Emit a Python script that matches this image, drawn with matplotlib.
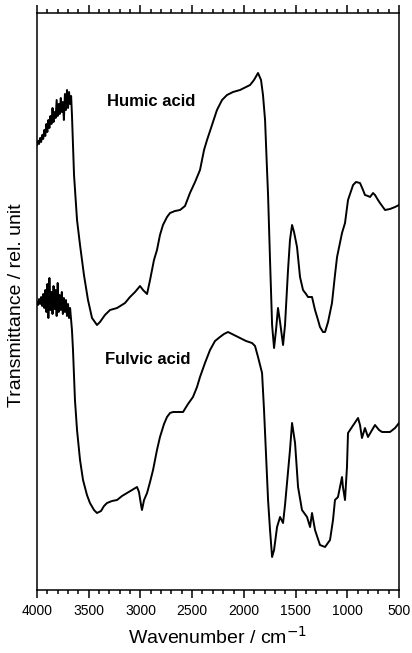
import numpy as np
import matplotlib
matplotlib.use("Agg")
import matplotlib.pyplot as plt
from matplotlib.ticker import MultipleLocator

plt.rcParams['font.family'] = ['Liberation Sans', 'DejaVu Sans']

# Humic acid spectrum (wavenumber / cm-1, transmittance in rel. units)
humic_wn = [4000, 3990, 3980, 3970, 3960, 3950, 3940, 3930, 3920, 3910, 3900,
            3890, 3880, 3870, 3860, 3850, 3840, 3830, 3820, 3810, 3800, 3790,
            3780, 3770, 3760, 3750, 3740, 3730, 3720, 3710, 3700, 3690, 3680,
            3670, 3662, 3642, 3613, 3584, 3546, 3507, 3468, 3420, 3391, 3343,
            3294, 3226, 3149, 3101, 3052, 3004, 2975, 2936, 2907, 2869, 2840,
            2811, 2782, 2743, 2714, 2666, 2617, 2569, 2521, 2472, 2424, 2385,
            2356, 2308, 2260, 2211, 2163, 2105, 2037, 1940, 1902, 1863, 1834,
            1815, 1795, 1776, 1766, 1747, 1727, 1708, 1689, 1670, 1650, 1621,
            1602, 1573, 1554, 1534, 1515, 1486, 1457, 1428, 1399, 1380, 1341,
            1312, 1283, 1264, 1235, 1215, 1186, 1148, 1119, 1099, 1051, 1022,
            993, 944, 916, 877, 848, 829, 800, 780, 751, 732, 703, 684, 635,
            587, 538, 500]
humic_t = [445, 449, 446, 452, 448, 455, 451, 460, 454, 466, 458,
           470, 462, 474, 466, 482, 468, 478, 472, 490, 474, 486,
           476, 492, 478, 488, 470, 496, 480, 500, 482, 498, 486,
           494, 475, 415, 370, 345, 315, 290, 272, 265, 268, 275,
           280, 282, 287, 293, 298, 304, 300, 296, 310, 330, 340,
           355, 365, 373, 377, 379, 380, 384, 397, 408, 420, 440,
           450, 465, 480, 490, 495, 498, 500, 505, 510, 517, 510,
           495, 470, 420, 395, 330, 265, 242, 260, 282, 268, 245,
           265, 320, 350, 365, 358, 343, 313, 300, 296, 293, 293,
           280, 270, 263, 258, 258, 268, 287, 315, 333, 357, 367,
           390, 405, 408, 407, 400, 395, 394, 393, 397, 395, 390, 387, 380,
           381, 383, 385]

# Fulvic acid spectrum
fulvic_wn = [4000, 3990, 3980, 3970, 3960, 3950, 3940, 3930, 3920, 3910, 3900,
             3890, 3880, 3870, 3860, 3850, 3840, 3830, 3820, 3810, 3800, 3790,
             3780, 3770, 3760, 3750, 3740, 3730, 3720, 3710, 3700, 3690, 3680,
             3670, 3662, 3652, 3633, 3613, 3584, 3555, 3517, 3488, 3449, 3420,
             3381, 3352, 3323, 3275, 3226, 3178, 3130, 3081, 3033, 3014, 2994,
             2985, 2965, 2936, 2907, 2878, 2840, 2811, 2772, 2743, 2714, 2685,
             2637, 2588, 2540, 2492, 2453, 2424, 2376, 2327, 2279, 2231, 2192,
             2153, 2095, 2037, 1979, 1921, 1892, 1863, 1844, 1824, 1805, 1795,
             1776, 1766, 1747, 1727, 1708, 1679, 1650, 1621, 1602, 1583, 1554,
             1534, 1505, 1476, 1438, 1389, 1360, 1341, 1312, 1264, 1215, 1167,
             1138, 1119, 1090, 1051, 1042, 1022, 1003, 993, 954, 896, 877, 858,
             829, 800, 761, 732, 693, 664, 587, 538, 500]
fulvic_t = [288, 285, 291, 286, 293, 284, 296, 282, 300, 278, 306,
            272, 312, 280, 298, 276, 304, 281, 300, 274, 307, 278,
            295, 280, 298, 276, 292, 278, 290, 274, 286, 272, 282,
            270, 260, 240, 190, 160, 130, 110, 95, 87, 80, 77,
            79, 84, 87, 89, 90, 94, 97, 100, 103, 98, 85,
            80, 90, 97, 108, 120, 140, 153, 166, 173, 177, 178,
            178, 178, 186, 193, 203, 213, 227, 240, 249, 253, 256,
            258, 255, 252, 249, 247, 244, 233, 225, 217, 180, 157,
            115, 90, 60, 33, 40, 63, 73, 67, 85, 107, 140,
            167, 147, 103, 80, 73, 63, 77, 60, 45, 43, 50,
            70, 90, 93, 113, 103, 90, 123, 157, 163, 172, 165, 152,
            162, 153, 160, 165, 160, 158, 158, 162, 167]

fig = plt.figure(figsize=(4.12, 6.53), dpi=100)
ax = fig.add_axes([37/412, 1-590/653, 362/412, 577/653])

ax.plot(humic_wn, humic_t, color='black', lw=1.4)
ax.plot(fulvic_wn, fulvic_t, color='black', lw=1.4)

ax.text(2898, 488, 'Humic acid', fontsize=12, fontweight='bold', ha='center', va='center')
ax.text(2927, 230, 'Fulvic acid', fontsize=12, fontweight='bold', ha='center', va='center')

ax.set_xlim(4000, 500)
ax.set_ylim(0, 577)

ax.xaxis.set_major_locator(MultipleLocator(500))
ax.xaxis.set_minor_locator(MultipleLocator(100))
ax.tick_params(axis='x', which='both', direction='out', top=True, bottom=True,
               labeltop=False, width=1.1, labelsize=10, pad=4)
ax.tick_params(axis='x', which='major', length=6)
ax.tick_params(axis='x', which='minor', length=3)
ax.tick_params(axis='y', left=False, right=False, labelleft=False)
for s in ax.spines.values():
    s.set_linewidth(1.1)

ax.set_xlabel('Wavenumber / cm$^{-1}$', fontsize=14, labelpad=6)
fig.text(17/412, 1-305/653, 'Transmittance / rel. unit', fontsize=14,
         rotation=90, ha='center', va='center')

fig.savefig('out.png', dpi=100)
